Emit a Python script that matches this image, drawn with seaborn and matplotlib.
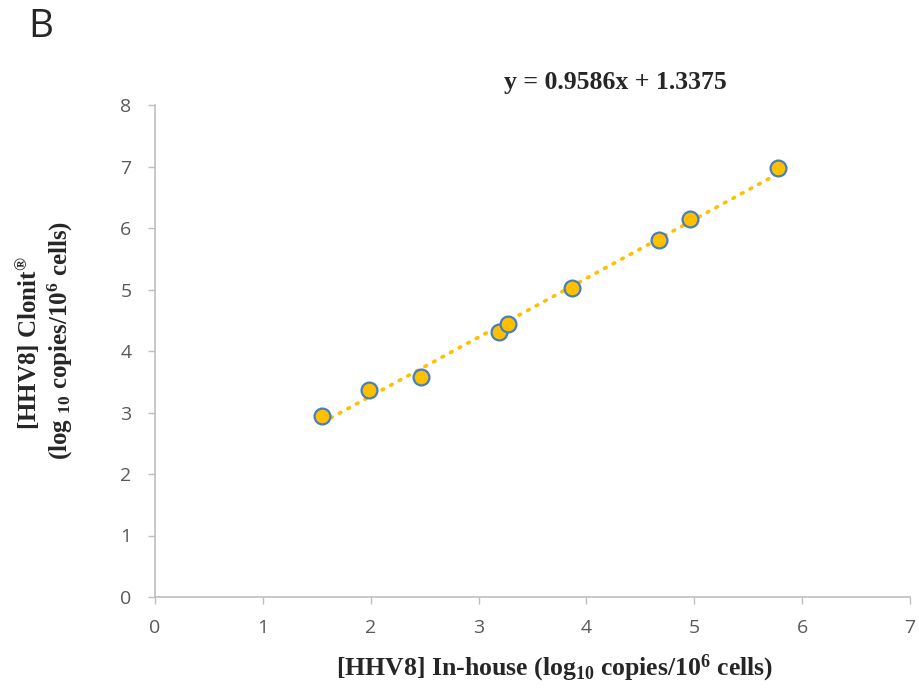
import matplotlib
matplotlib.use("Agg")
import matplotlib.pyplot as plt
import seaborn as sns
import numpy as np
import pandas as pd

inhouse = [1.55, 1.98, 2.47, 3.19, 3.27, 3.87, 4.67, 4.96, 5.78]
clonit = [2.95, 3.36, 3.57, 4.31, 4.44, 5.02, 5.80, 6.14, 6.97]
x_ticks = [0, 1, 2, 3, 4, 5, 6, 7]
y_ticks = [0, 1, 2, 3, 4, 5, 6, 7, 8]
equation = "y = 0.9586x + 1.3375"

df = pd.DataFrame({"inhouse": inhouse, "clonit": clonit})

sns.set_style("white")
plt.rcParams['mathtext.fontset'] = 'custom'
plt.rcParams['mathtext.rm'] = 'Liberation Serif:bold'
plt.rcParams['mathtext.bf'] = 'Liberation Serif:bold'
plt.rcParams['mathtext.it'] = 'Liberation Serif:bold'

fig = plt.figure(figsize=(9.2, 6.91), dpi=100)
ax = fig.add_axes([155/920, 1-597/691, (910-155)/920, (597-105)/691])

sns.regplot(data=df, x="inhouse", y="clonit", ax=ax, scatter=False, ci=None,
            truncate=True,
            line_kws=dict(color="#FFC000", linewidth=2.6, linestyle=(0, (0.5, 2.2)),
                          dash_capstyle="round"))
sns.scatterplot(data=df, x="inhouse", y="clonit", ax=ax, s=130,
                color="#FFC000", edgecolor="#4A7EBB", linewidth=1.6, zorder=3)

ax.set_xlim(0, 7)
ax.set_ylim(0, 8)
ax.set_xticks(x_ticks)
ax.set_yticks(y_ticks)
ax.tick_params(axis='both', which='both', direction='out', length=5, width=1,
               color="#BFBFBF", labelcolor="#595959", labelsize=14,
               left=True, bottom=True)
ax.tick_params(axis='x', pad=11)
ax.tick_params(axis='y', pad=12)
for lab in ax.get_xticklabels() + ax.get_yticklabels():
    lab.set_fontfamily("Open Sans")
for s in ["top", "right"]:
    ax.spines[s].set_visible(False)
for s in ["left", "bottom"]:
    ax.spines[s].set_color("#BFBFBF")
    ax.spines[s].set_linewidth(1.2)
ax.grid(False)

ax.set_xlabel("")
ax.set_ylabel("")
fig.text(555/920, 1-668/691, "[HHV8] In-house (log$_{10}$ copies/10$^{6}$ cells)",
         ha="center", va="center",
         fontfamily="Liberation Serif", fontweight="bold", fontsize=18.5)
fig.text(27/920, 1-343/691, "[HHV8] Clonit$^{®}$", rotation=90, ha="center", va="center",
         fontfamily="Liberation Serif", fontweight="bold", fontsize=18)
fig.text(60/920, 1-340/691, "(log $_{10}$ copies/10$^{6}$ cells)", rotation=90, ha="center",
         va="center", fontfamily="Liberation Serif", fontweight="bold", fontsize=18)

fig.text(615/920, 1-83/691, equation, ha="center", va="center",
         fontfamily="Liberation Serif", fontweight="bold", fontsize=18.5)
fig.text(28/920, 1-27/691, "B", ha="left", va="center", fontfamily="Open Sans",
         fontsize=28)

fig.savefig("out.png", dpi=100)
